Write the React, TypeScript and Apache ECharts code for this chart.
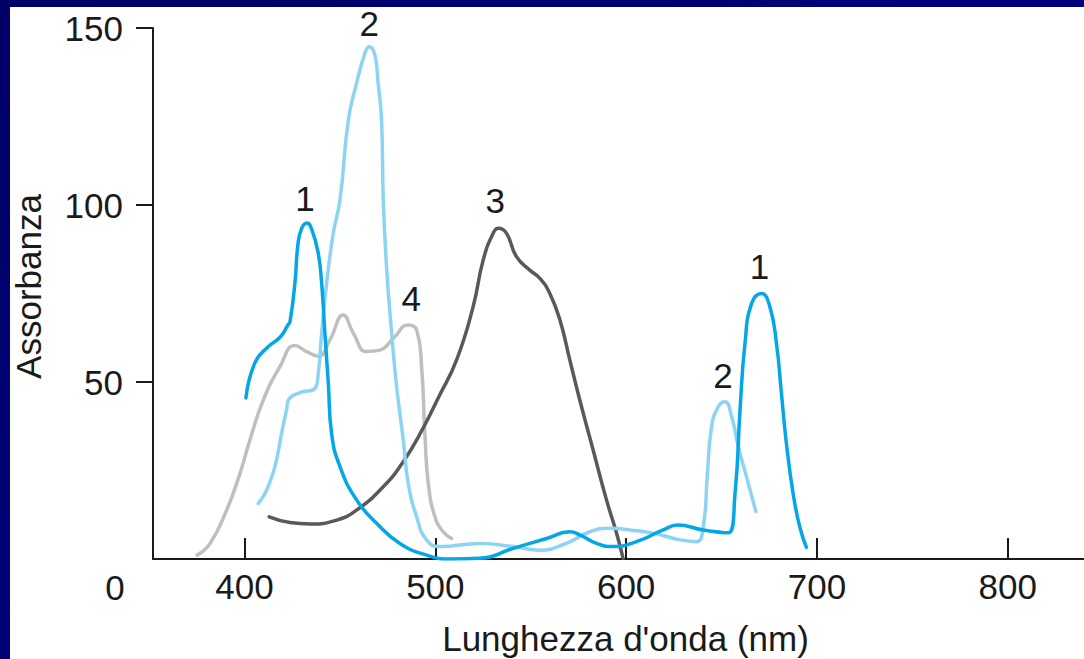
import React, { useEffect, useRef } from "react";
import * as echarts from "echarts";

const xTicks = [400, 500, 600, 700, 800];
const yTicks = [50, 100, 150];
const originLabel = "0";
const xTitle = "Lunghezza d'onda (nm)";
const yTitle = "Assorbanza";

// Curve 1 (bright blue)
const curve1: [number, number][] = [
  [400.7, 45.5], [405.4, 55.4], [412.2, 59.9], [418.7, 62.7], [422.7, 66.1], [423.8, 67.0],
  [426.4, 78.0], [428.0, 89.0], [430.0, 93.5], [432.7, 94.9], [435.3, 93.0], [438.6, 86.4],
  [440.4, 77.9], [442.1, 63.8], [443.9, 49.6], [445.6, 35.5], [450.0, 26.1], [458.7, 16.7],
  [469.2, 10.1], [481.4, 4.4], [495.4, 1.1], [507.6, 0.0], [523.3, 0.2], [540.8, 3.0],
  [558.3, 5.8], [570.5, 7.7], [575.7, 6.8], [584.5, 4.4], [593.2, 3.5], [605.4, 4.9],
  [619.4, 8.2], [627.0, 9.6], [640.4, 8.2], [653.5, 7.4], [657.1, 18.6], [659.7, 42.0],
  [662.3, 60.9], [665.8, 72.2], [671.0, 75.0], [675.3, 71.3], [678.8, 60.9], [681.4, 46.8],
  [684.0, 32.7], [687.5, 18.6], [691.0, 9.1], [694.5, 3.3],
];

// Curve 2 (light blue)
const curve2: [number, number][] = [
  [407.2, 15.7], [411.6, 19.5], [415.9, 26.1], [419.4, 35.5], [422.0, 42.1], [423.0, 44.9],
  [429.0, 47.0], [436.9, 48.2], [438.6, 52.4], [440.4, 63.8], [443.0, 77.9], [446.5, 92.0],
  [450.0, 101.4], [454.4, 124.0], [458.7, 134.4], [463.1, 142.9], [465.3, 144.7], [468.3, 142.4],
  [470.0, 134.4], [471.8, 124.0], [472.7, 101.4], [474.4, 82.6], [477.1, 63.8], [479.7, 48.7],
  [483.2, 33.5], [485.8, 21.4], [490.2, 11.9], [495.4, 5.4], [502.4, 3.5], [523.3, 4.4],
  [540.8, 3.5], [554.8, 2.5], [568.7, 4.4], [581.0, 7.7], [591.5, 8.7], [602.0, 8.2],
  [614.1, 7.3], [628.3, 5.4], [636.9, 4.9], [640.4, 9.1], [642.5, 23.2], [644.8, 37.4],
  [648.3, 43.0], [651.8, 44.4], [655.3, 40.2], [658.8, 31.7], [663.1, 23.2], [668.0, 13.4],
];

// Curve 3 (dark grey)
const curve3: [number, number][] = [
  [412.9, 11.9], [423.8, 10.3], [434.3, 9.9], [448.3, 11.0], [458.7, 13.8], [472.7, 20.4],
  [483.2, 27.5], [493.6, 37.0], [501.5, 45.5], [511.1, 56.2], [519.8, 71.3], [525.1, 84.5],
  [530.3, 92.0], [533.0, 93.4], [537.3, 92.0], [542.5, 85.4], [549.5, 81.6], [554.8, 79.3],
  [560.0, 75.0], [565.3, 67.5], [570.5, 56.2], [575.7, 44.9], [582.7, 30.8], [589.7, 16.7],
  [595.0, 7.3], [598.4, 0.2],
];

// Curve 4 (light grey)
const curve4: [number, number][] = [
  [375.1, 1.1], [381.9, 4.4], [390.6, 13.8], [397.6, 24.2], [402.8, 33.6], [409.8, 44.9],
  [418.5, 54.3], [426.4, 60.3], [432.5, 58.6], [438.6, 57.3], [444.7, 61.9], [451.7, 68.9],
  [457.0, 63.8], [464.0, 58.6], [470.9, 59.0], [477.9, 62.3], [485.8, 66.1], [490.2, 64.7],
  [492.8, 54.3], [494.5, 35.5], [496.3, 21.4], [499.8, 11.9], [504.1, 7.7], [508.5, 5.8],
];

// Peak annotations: series index, text, anchor [nm, absorbance]
const peakSeries = [0, 1, 2, 3, 0, 1];
const peakTexts = ["1", "2", "3", "4", "1", "2"];
const peakAnchors: [number, number][] = [
  [432.7, 94.9], [465.3, 144.7], [533.0, 93.4], [485.8, 66.1], [671.0, 75.0], [651.8, 44.4],
];

const FONT = '"Liberation Sans", Arial, Helvetica, sans-serif';
const INK = "#1a1a1a";
const colors = ["#05a6e6", "#8dd4f4", "#595959", "#bfbfbf"];
const labelOffsets: [number, number][] = [[-2, -25], [0, -23], [-3, -28], [3, -27], [-2, -27], [-2, -26]];

export default function App() {
  const ref = useRef<HTMLDivElement>(null);
  useEffect(() => {
    if (!ref.current) return;
    const chart = echarts.init(ref.current, undefined, { renderer: "svg" });
    const curves = [curve1, curve2, curve3, curve4];
    const order = [3, 2, 1, 0];
    const series = order.map((idx) => {
      const marks = peakSeries
        .map((s, i) => ({ s, i }))
        .filter((p) => p.s === idx)
        .map((p) => ({
          coord: peakAnchors[p.i],
          value: peakTexts[p.i],
          label: { offset: labelOffsets[p.i] },
        }));
      return {
        type: "line",
        data: curves[idx],
        showSymbol: false,
        symbol: "none",
        smooth: 0.5,
        z: 2 + (3 - idx),
        lineStyle: { color: colors[idx], width: 3.5, cap: "round", join: "round" },
        itemStyle: { color: colors[idx] },
        markPoint: {
          symbol: "circle",
          symbolSize: 1,
          itemStyle: { color: "rgba(0,0,0,0)" },
          label: {
            show: true,
            position: "inside",
            formatter: "{c}",
            fontSize: 35,
            fontFamily: FONT,
            color: INK,
          },
          data: marks,
        },
      };
    });

    chart.setOption({
      animation: false,
      backgroundColor: "#ffffff",
      grid: { left: 153, right: 0, top: 28, bottom: 100, containLabel: false, outerBoundsMode: "none" },
      xAxis: {
        type: "value",
        min: 352,
        max: 840,
        axisLine: { show: true, onZero: false, lineStyle: { color: INK, width: 2 } },
        axisTick: { show: true, inside: true, length: 21, customValues: xTicks, lineStyle: { color: INK, width: 2 } },
        axisLabel: { customValues: xTicks, margin: 10, fontSize: 35, fontFamily: FONT, color: INK },
        splitLine: { show: false },
      },
      yAxis: {
        type: "value",
        min: 0,
        max: 150,
        axisLine: { show: true, lineStyle: { color: INK, width: 2 } },
        axisTick: { show: true, length: 17, customValues: yTicks, lineStyle: { color: INK, width: 2 } },
        axisLabel: { customValues: yTicks, margin: 30, fontSize: 35, fontFamily: FONT, color: INK },
        splitLine: { show: false },
      },
      graphic: [
        {
          type: "rect",
          shape: { x: 0, y: 0, width: 1084, height: 7 },
          style: {
            fill: { type: "linear", x: 0, y: 0, x2: 1, y2: 0, colorStops: [{ offset: 0, color: "#000066" }, { offset: 1, color: "#00007e" }] },
          },
          z: 100,
        },
        {
          type: "rect",
          shape: { x: 0, y: 0, width: 10, height: 659 },
          style: {
            fill: { type: "linear", x: 0, y: 0, x2: 0, y2: 1, colorStops: [{ offset: 0, color: "#000066" }, { offset: 1, color: "#000078" }] },
          },
          z: 100,
        },
        {
          type: "text",
          x: 115,
          y: 587,
          style: { text: originLabel, font: `35px ${FONT}`, fill: INK, align: "center", verticalAlign: "middle", textAlign: "center", textVerticalAlign: "middle" },
        },
        {
          type: "text",
          x: 625.5,
          y: 638,
          style: { text: xTitle, font: `35px ${FONT}`, fill: INK, align: "center", verticalAlign: "middle", textAlign: "center", textVerticalAlign: "middle" },
        },
        {
          type: "text",
          x: 28,
          y: 286.5,
          rotation: Math.PI / 2,
          style: { text: yTitle, font: `35px ${FONT}`, fill: INK, align: "center", verticalAlign: "middle", textAlign: "center", textVerticalAlign: "middle" },
        },
      ],
      series,
    });
    return () => chart.dispose();
  }, []);
  return (
    <div
      ref={ref}
      style={{ position: "fixed", left: 0, top: 0, width: "1084px", height: "659px" }}
    />
  );
}
